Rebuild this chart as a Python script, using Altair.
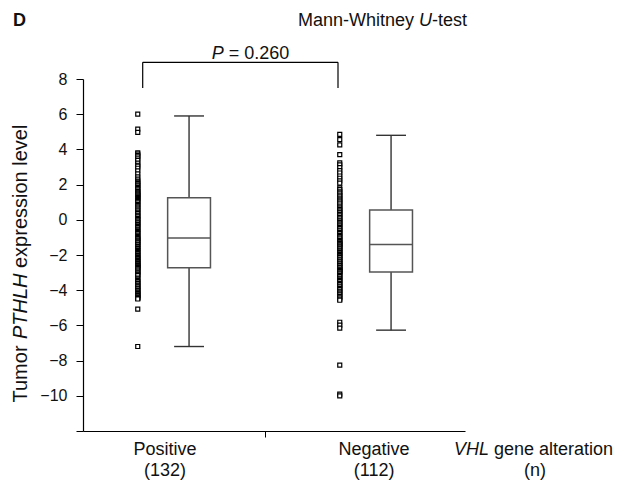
import altair as alt
import pandas as pd

# ---------------- data ----------------
groups = ["Positive", "Negative"]
group_n = [132, 112]
group_pos = [1, 2]

positive_values = [
    6.0, 5.15, 4.97, 3.8, 3.74, 3.66, 3.58, 3.47, 3.38, 3.22, 3.1, 3.05, 2.93, 2.78, 2.61, 2.44,
    2.31, 2.2, 2.14, 2.07, 1.99, 1.93, 1.84, 1.77, 1.7, 1.62, 1.57, 1.51, 1.46, 1.41, 1.36, 1.31, 1.27,
    1.21, 1.16, 1.09, 1.03, 0.96, 0.87, 0.81, 0.74, 0.66, 0.57, 0.51, 0.43, 0.36, 0.27, 0.21, 0.16,
    0.07, 0.01, -0.06, -0.13, -0.17, -0.26, -0.31, -0.39, -0.44, -0.53, -0.59, -0.66, -0.71, -0.79,
    -0.87, -0.94, -1.0,
    -1.06, -1.09, -1.16, -1.21, -1.27, -1.31, -1.39, -1.43, -1.51, -1.55, -1.63, -1.67, -1.75, -1.79,
    -1.87, -1.91, -1.99, -2.03, -2.11, -2.14, -2.21, -2.24, -2.31, -2.36, -2.41, -2.46, -2.49, -2.56,
    -2.59, -2.63, -2.67, -2.7, -2.72,
    -2.77, -2.84, -2.91, -2.97, -3.01, -3.09, -3.13, -3.17, -3.31, -3.37, -3.46, -3.51, -3.59, -3.63,
    -3.71, -3.77, -3.81, -3.89, -3.93, -4.01, -4.04, -4.11, -4.16, -4.19, -4.26, -4.29, -4.34, -4.41,
    -4.43, -4.47, -4.5, -5.08, -7.2,
]
negative_values = [
    4.85, 4.55, 4.26, 3.7, 3.23, 3.12, 2.96, 2.79, 2.66, 2.49, 2.36, 2.21, 2.08, 1.81, 1.71, 1.59,
    1.52, 1.41, 1.34, 1.24, 1.18, 1.07, 1.01, 0.94, 0.84, 0.73, 0.67, 0.59,
    0.51, 0.43, 0.39, 0.29, 0.23, 0.14, 0.09, -0.01, -0.06, -0.15, -0.19, -0.28, -0.34, -0.43, -0.49,
    -0.58, -0.63, -0.73, -0.79, -0.89, -0.94, -1.03, -1.09, -1.18, -1.23, -1.31, -1.34, -1.38,
    -1.42, -1.49, -1.54, -1.61, -1.65, -1.73, -1.78, -1.86, -1.89, -1.98, -2.02, -2.11, -2.14, -2.23,
    -2.27, -2.35, -2.39, -2.47, -2.51, -2.59, -2.62, -2.7, -2.73, -2.81, -2.84, -2.89, -2.92, -2.95,
    -3.01, -3.07, -3.16, -3.21, -3.31, -3.37, -3.46, -3.51, -3.61, -3.67, -3.76, -3.81, -3.91, -3.97,
    -4.06, -4.11, -4.21, -4.27, -4.37, -4.43, -4.51, -4.57, -5.82, -5.99, -6.16, -8.26, -9.9, -10.0,
]

box_q1 = [-2.73, -2.96]
box_median = [-1.03, -1.40]
box_q3 = [1.25, 0.55]
whisker_low = [-7.2, -6.27]
whisker_high = [5.9, 4.8]

y_ticks = [-12, -10, -8, -6, -4, -2, 0, 2, 4, 6, 8]
p_value = "0.260"

# ---------------- tables ----------------
points = pd.DataFrame({
    "g": [group_pos[0]] * len(positive_values) + [group_pos[1]] * len(negative_values),
    "v": positive_values + negative_values,
})
boxes = pd.DataFrame({
    "g": group_pos, "q1": box_q1, "med": box_median, "q3": box_q3,
    "lo": whisker_low, "hi": whisker_high,
})
labels = pd.DataFrame({"g": group_pos, "cat": groups, "n": [f"({n})" for n in group_n]})

FONT = "Liberation Sans"
xs = alt.Scale(domain=[0.599, 2.49], nice=False, zero=False)
ys = alt.Scale(domain=[-12, 8], nice=False, zero=False)

X_AXIS = alt.Axis(
    values=[1.5], labels=False, title=None, grid=False, tickSize=6,
    tickColor="black", domainColor="black", tickWidth=1, domainWidth=1.2)
Y_AXIS = alt.Axis(
    values=y_ticks, title=None, grid=False, tickSize=7, tickColor="black",
    domainColor="black", tickWidth=1, domainWidth=1.2, labelFontSize=16,
    labelFont=FONT, labelColor="#111", labelPadding=9,
    labelOverlap=False, labelBound=False, labelFlush=False,
    labelExpr="datum.value == -12 ? '' : datum.label")

STRIP = -0.13
BOXC = 0.124
BOXW = 0.106
CAPW = 0.074


def X(f):
    return alt.X(f, scale=xs, axis=X_AXIS)


def Y(f):
    return alt.Y(f, scale=ys, axis=Y_AXIS)


strip = alt.Chart(points).transform_calculate(x="datum.g + " + str(STRIP)).mark_point(
    shape="square", size=16, filled=False, fill="white", fillOpacity=1,
    stroke="black", strokeWidth=1.2, opacity=1,
).encode(x=X("x:Q"), y=Y("v:Q"))

bx = alt.Chart(boxes).transform_calculate(
    c="datum.g + " + str(BOXC),
    l="datum.g + " + str(BOXC - BOXW),
    r="datum.g + " + str(BOXC + BOXW),
    cl="datum.g + " + str(BOXC - CAPW),
    cr="datum.g + " + str(BOXC + CAPW),
)
LC = "#333"
whisk_up = bx.mark_rule(color=LC, strokeWidth=1.4).encode(x=X("c:Q"), y=Y("q3:Q"), y2="hi:Q")
whisk_dn = bx.mark_rule(color=LC, strokeWidth=1.4).encode(x=X("c:Q"), y=Y("lo:Q"), y2="q1:Q")
cap_hi = bx.mark_rule(color=LC, strokeWidth=1.4).encode(x=X("cl:Q"), x2="cr:Q", y=Y("hi:Q"))
cap_lo = bx.mark_rule(color=LC, strokeWidth=1.4).encode(x=X("cl:Q"), x2="cr:Q", y=Y("lo:Q"))
box = bx.mark_rect(fill="white", stroke="#555", strokeWidth=1.5).encode(
    x=X("l:Q"), x2="r:Q", y=Y("q1:Q"), y2="q3:Q")
med = bx.mark_rule(color="#555", strokeWidth=1.5).encode(x=X("l:Q"), x2="r:Q", y=Y("med:Q"))


def txt(t, x, y, size=18, style="normal", weight="normal", align="left", angle=0,
        baseline="middle"):
    kw = dict(fontSize=size, font=FONT, fontStyle=style, fontWeight=weight, align=align,
              baseline=baseline, color="#111")
    if angle:
        kw["angle"] = angle
    return alt.Chart(pd.DataFrame({"t": [t]})).mark_text(**kw).encode(
        text="t:N", x=alt.value(x), y=alt.value(y))


# category labels under the axis
lab1 = alt.Chart(labels).transform_calculate(lx="datum.g == 1 ? 1.005 : 2.04").mark_text(
    fontSize=18, font=FONT, baseline="middle", color="#111").encode(
    x=X("lx:Q"), y=alt.value(371), text="cat:N")
lab2 = alt.Chart(labels).transform_calculate(lx="datum.g == 1 ? 1.005 : 2.04").mark_text(
    fontSize=18, font=FONT, baseline="middle", color="#111").encode(
    x=X("lx:Q"), y=alt.value(392), text="n:N")

# bracket
br_h = alt.Chart(pd.DataFrame({"a": [0]})).mark_rule(color="black", strokeWidth=1.2).encode(
    x=alt.value(59.7), x2=alt.value(255), y=alt.value(-16.7))
br_l = alt.Chart(pd.DataFrame({"a": [0]})).mark_rule(color="black", strokeWidth=1.2).encode(
    x=alt.value(59.7), y=alt.value(-16.7), y2=alt.value(9))
br_r = alt.Chart(pd.DataFrame({"a": [0]})).mark_rule(color="black", strokeWidth=1.2).encode(
    x=alt.value(255), y=alt.value(-16.7), y2=alt.value(9))

annotations = [
    txt("D", -70, -58, size=18, weight="bold"),
    txt("Mann-Whitney", 215, -58),
    txt("U", 336, -58, style="italic"),
    txt("-test", 349, -58),
    txt("P", 128.7, -25, style="italic"),
    txt("= " + p_value, 145.7, -25),
    txt("VHL", 371, 371, style="italic"),
    txt("gene alteration", 411, 371),
    txt("(n)", 452, 392, align="center"),
    # y title, rotated
    txt("Tumor", -56, 323.5, size=20, angle=270, baseline="alphabetic"),
    txt("PTHLH", -56, 260.1, size=20, style="italic", angle=270, baseline="alphabetic"),
    txt("expression level", -56, 189, size=20, angle=270, baseline="alphabetic"),
]

chart = alt.layer(
    strip, whisk_up, whisk_dn, cap_hi, cap_lo, box, med, lab1, lab2,
    br_h, br_l, br_r, *annotations,
).properties(
    width=382, height=352,
    autosize=alt.AutoSizeParams(type="none"),
    padding={"left": 75, "top": 71, "right": 157, "bottom": 53},
    background="white",
).configure_view(stroke=None).configure_axis(grid=False)

chart.save("out.html", embed_options={"renderer": "svg", "actions": False})
